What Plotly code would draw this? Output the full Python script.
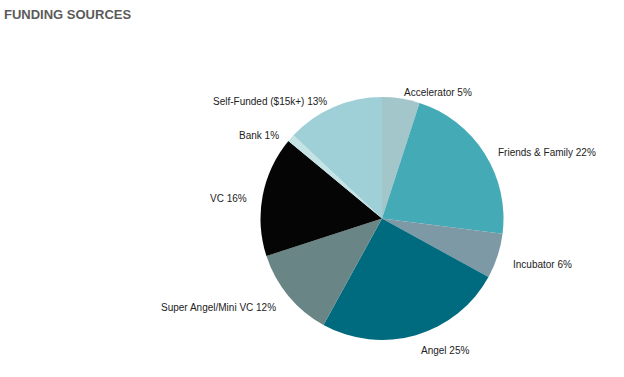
import math
import plotly.graph_objects as go

labels = ["Accelerator", "Friends & Family", "Incubator", "Angel",
          "Super Angel/Mini VC", "VC", "Bank", "Self-Funded ($15k+)"]
values = [5, 22, 6, 25, 12, 16, 1, 13]
colors = ["#a2c6ca", "#43aab6", "#7d99a6", "#006a7f",
          "#698585", "#050505", "#c5e3e4", "#9fd0d7"]

W, H = 624, 377
cx, cy, r = 382, 218.5, 121.5
label_r = r + 15
font = dict(family="Liberation Sans, Arial, sans-serif", size=10, color="#222222")

fig = go.Figure(go.Pie(
    labels=labels, values=values, sort=False, direction="clockwise", rotation=0,
    marker=dict(colors=colors, line=dict(width=0)),
    textinfo="none", hoverinfo="label+percent", showlegend=False,
    domain=dict(x=[(cx - r) / W, (cx + r) / W], y=[1 - (cy + r) / H, 1 - (cy - r) / H]),
))

annotations = [dict(text="<b>FUNDING SOURCES</b>", x=2 / W, y=1 - 14 / H, xref="paper", yref="paper",
                    xanchor="left", yanchor="middle", showarrow=False,
                    font=dict(family="Liberation Sans, Arial, sans-serif", size=13, color="#5b5b5b"))]
total = sum(values)
cum = 0
for lab, v in zip(labels, values):
    mid = (cum + v / 2) / total * 2 * math.pi
    cum += v
    px = cx + label_r * math.sin(mid)
    py = cy - (label_r - 4) * math.cos(mid) + 5
    annotations.append(dict(
        text=f"{lab} {v}%", x=px / W, y=1 - py / H, xref="paper", yref="paper",
        xanchor="left" if math.sin(mid) >= 0 else "right", yanchor="middle",
        showarrow=False, font=font, borderpad=0,
    ))

fig.update_layout(
    width=W, height=H, margin=dict(l=0, r=0, t=0, b=0, autoexpand=False),
    paper_bgcolor="white", plot_bgcolor="white", annotations=annotations,
)
fig.write_html("out.html", config={"displayModeBar": False},
               post_script="document.body.style.margin='0';")
